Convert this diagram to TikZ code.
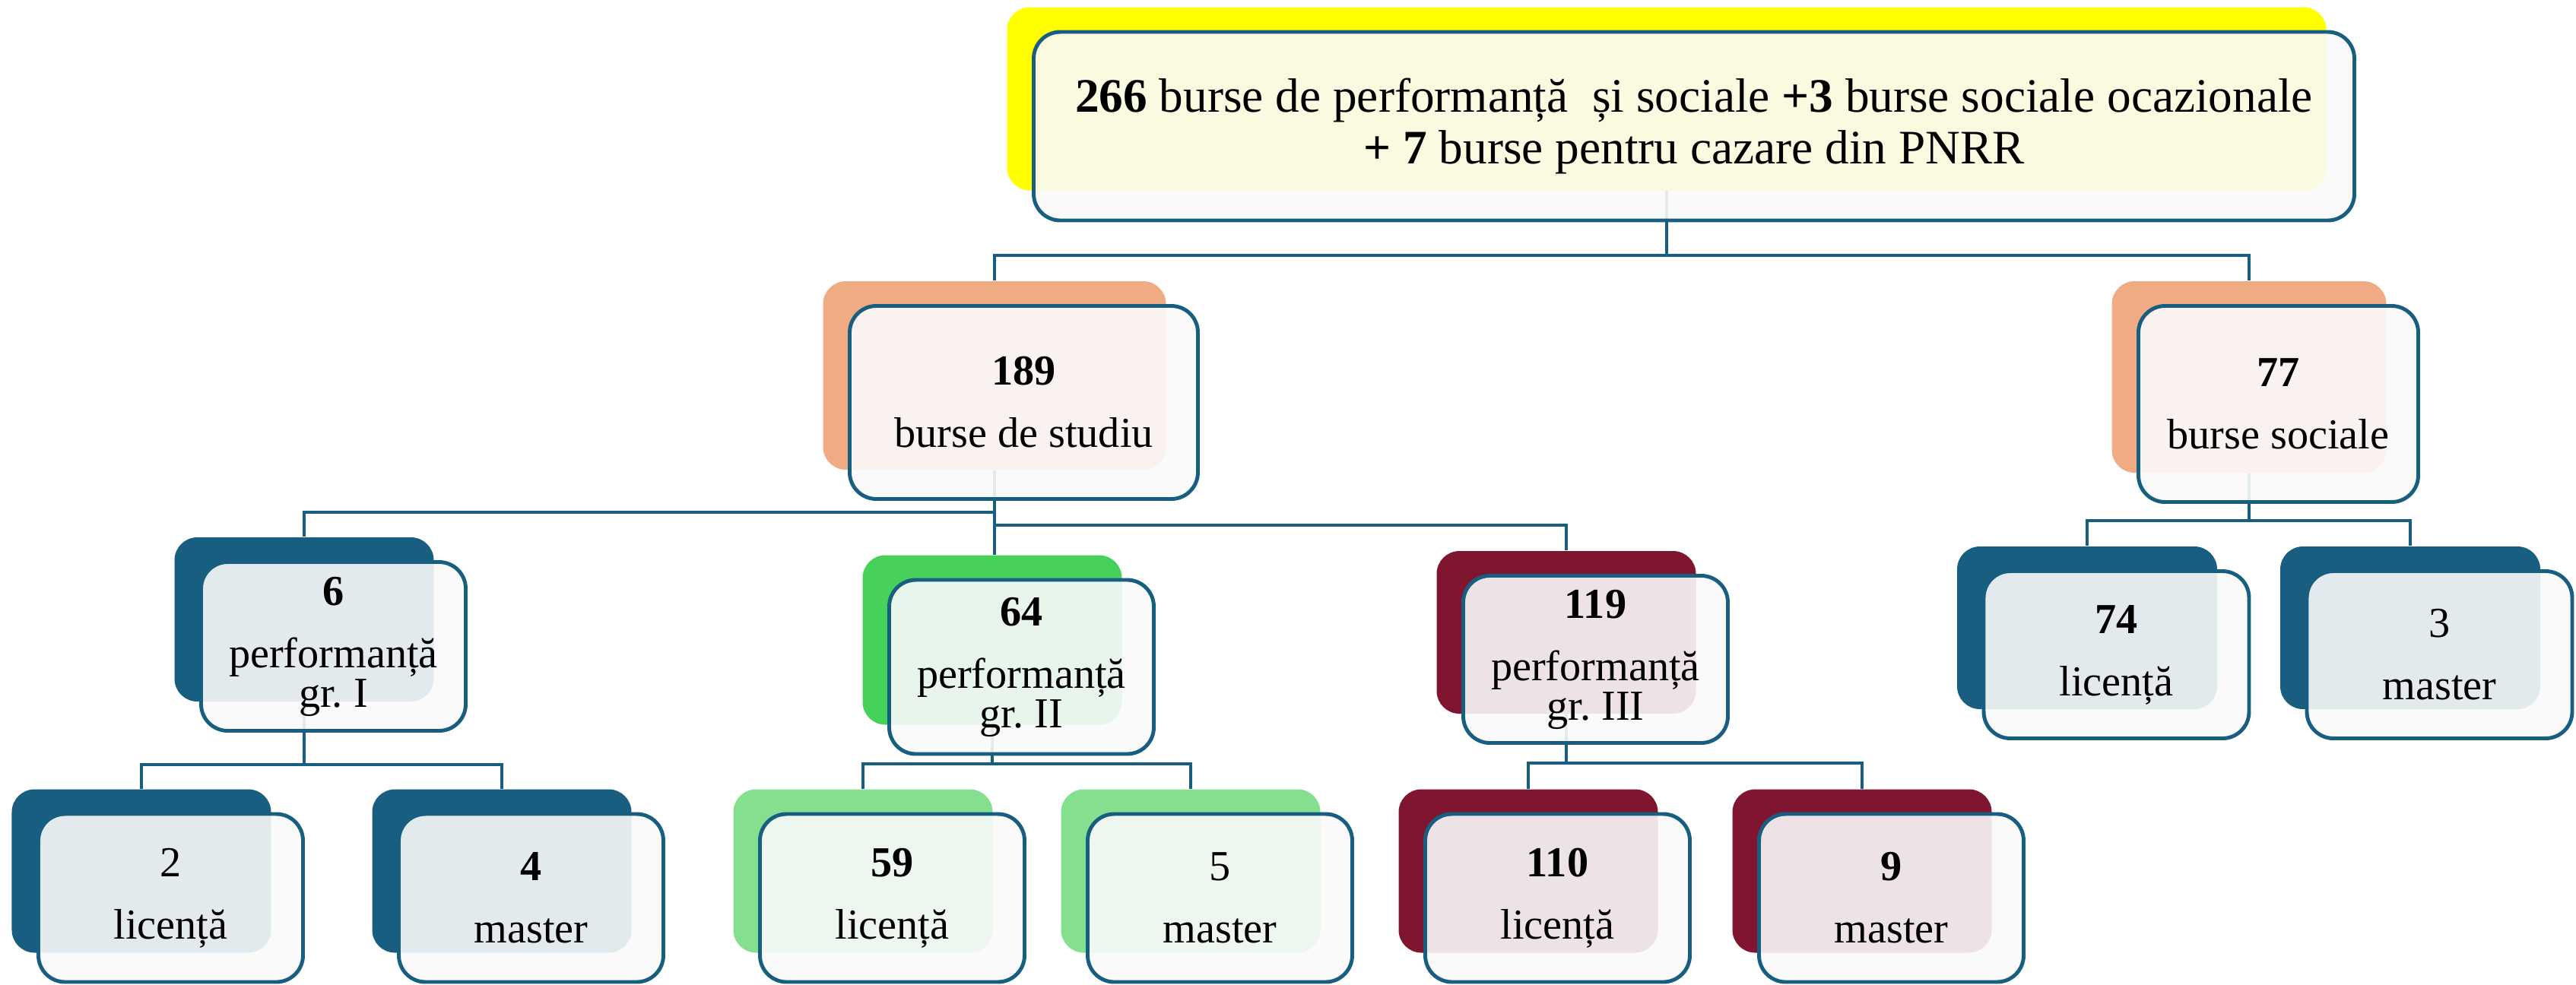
\documentclass[tikz,border=0pt]{standalone}
\usepackage{fontspec}
\setmainfont{Liberation Serif}
\usetikzlibrary{positioning}

\definecolor{tealblue}{HTML}{185E80}
\definecolor{peach}{HTML}{F0AA84}
\definecolor{leafgreen}{HTML}{46D15A}
\definecolor{mintgreen}{HTML}{84E08F}
\definecolor{wine}{HTML}{7F152E}
\definecolor{lemon}{HTML}{FFFF00}
\definecolor{paper}{HTML}{FAFAFA}

\begin{document}
\begin{tikzpicture}[
    box/.style 2 args={minimum width=#1cm, minimum height=#2cm},
    back/.style={rectangle, rounded corners=0.3cm, inner sep=0pt},
    front/.style={rectangle, draw=tealblue, line width=1.4pt, fill=paper, fill opacity=0.9, text opacity=1,
        rounded corners=0.35cm, align=center, inner sep=2pt, font=\fontsize{16pt}{14.8pt}\selectfont},
    link/.style={draw=tealblue, line width=1.2pt}
]
    \useasboundingbox (0,0) rectangle (33.88,-12.95);
    \fill[white] (0,0) rectangle (33.88,-12.95);

    % Back shapes
    \node[back, fill=lemon, box={17.35}{2.41}] (total) at (21.92,-1.30) {};
    \node[back, fill=peach, box={4.51}{2.48}] (studiu) at (13.08,-4.94) {};
    \node[back, fill=peach, box={3.61}{2.52}] (sociale) at (29.58,-4.96) {};
    \node[back, fill=tealblue, box={3.41}{2.16}] (gr1) at (4.00,-8.15) {};
    \node[back, fill=leafgreen, box={3.41}{2.23}] (gr2) at (13.05,-8.42) {};
    \node[back, fill=wine, box={3.41}{2.14}] (gr3) at (20.60,-8.32) {};
    \node[back, fill=tealblue, box={3.41}{2.15}] (gr1lic) at (1.86,-11.46) {};
    \node[back, fill=tealblue, box={3.41}{2.15}] (gr1mas) at (6.60,-11.46) {};
    \node[back, fill=mintgreen, box={3.41}{2.15}] (gr2lic) at (11.35,-11.46) {};
    \node[back, fill=mintgreen, box={3.41}{2.15}] (gr2mas) at (15.66,-11.46) {};
    \node[back, fill=wine, box={3.41}{2.15}] (gr3lic) at (20.10,-11.46) {};
    \node[back, fill=wine, box={3.41}{2.15}] (gr3mas) at (24.49,-11.46) {};
    \node[back, fill=tealblue, box={3.42}{2.14}] (soclic) at (27.45,-8.26) {};
    \node[back, fill=tealblue, box={3.42}{2.14}] (socmas) at (31.70,-8.26) {};

    % Connectors
    \draw[link] (total.south) -- ++(0,-0.85) -| (studiu.north);
    \draw[link] (total.south) -- ++(0,-0.85) -| (sociale.north);
    \draw[link] (studiu.south) -- ++(0,-0.55) -| (gr1.north);
    \draw[link] (studiu.south) -- ++(0,-0.72) -| (gr3.north);
    \draw[link] (studiu.south) -- (studiu.south |- gr2.north);
    \draw[link] (sociale.south) -- ++(0,-0.62) -| (soclic.north);
    \draw[link] (sociale.south) -- ++(0,-0.62) -| (socmas.north);
    \draw[link] (gr1.south) -- ++(0,-0.82) -| (gr1lic.north);
    \draw[link] (gr1.south) -- ++(0,-0.82) -| (gr1mas.north);
    \draw[link] (gr2.south) -- ++(0,-0.51) -| (gr2lic.north);
    \draw[link] (gr2.south) -- ++(0,-0.51) -| (gr2mas.north);
    \draw[link] (gr3.south) -- ++(0,-0.64) -| (gr3lic.north);
    \draw[link] (gr3.south) -- ++(0,-0.64) -| (gr3mas.north);

    % Front boxes
    \node[front, box={17.37}{2.48}, font=\fontsize{18pt}{19.6pt}\selectfont] (total-f) at ([shift={(0.36,-0.36)}]total.center)
        {\textbf{266} burse de performanță~ și sociale \textbf{+3} burse sociale ocazionale\\\textbf{+ 7} burse pentru cazare din PNRR};
    \node[front, box={4.58}{2.54}] (studiu-f) at ([shift={(0.385,-0.355)}]studiu.center) {\textbf{189}\\[0.3cm]burse de studiu};
    \node[front, box={3.68}{2.58}] (sociale-f) at ([shift={(0.385,-0.355)}]sociale.center) {\textbf{77}\\[0.3cm]burse sociale};
    \node[front, box={3.48}{2.22}] (gr1-f) at ([shift={(0.385,-0.355)}]gr1.center) {\textbf{6}\\[0.3cm]performanță\\gr.\ I};
    \node[front, box={3.48}{2.29}] (gr2-f) at ([shift={(0.385,-0.355)}]gr2.center) {\textbf{64}\\[0.3cm]performanță\\gr.\ II};
    \node[front, box={3.48}{2.20}] (gr3-f) at ([shift={(0.385,-0.355)}]gr3.center) {\textbf{119}\\[0.3cm]performanță\\gr.\ III};
    \node[front, box={3.48}{2.21}] (gr1lic-f) at ([shift={(0.385,-0.355)}]gr1lic.center) {2\\[0.3cm]licență};
    \node[front, box={3.48}{2.21}] (gr1mas-f) at ([shift={(0.385,-0.355)}]gr1mas.center) {\textbf{4}\\[0.3cm]master};
    \node[front, box={3.48}{2.21}] (gr2lic-f) at ([shift={(0.385,-0.355)}]gr2lic.center) {\textbf{59}\\[0.3cm]licență};
    \node[front, box={3.48}{2.21}] (gr2mas-f) at ([shift={(0.385,-0.355)}]gr2mas.center) {5\\[0.3cm]master};
    \node[front, box={3.48}{2.21}] (gr3lic-f) at ([shift={(0.385,-0.355)}]gr3lic.center) {\textbf{110}\\[0.3cm]licență};
    \node[front, box={3.48}{2.21}] (gr3mas-f) at ([shift={(0.385,-0.355)}]gr3mas.center) {\textbf{9}\\[0.3cm]master};
    \node[front, box={3.49}{2.20}] (soclic-f) at ([shift={(0.385,-0.355)}]soclic.center) {\textbf{74}\\[0.3cm]licență};
    \node[front, box={3.49}{2.20}] (socmas-f) at ([shift={(0.385,-0.355)}]socmas.center) {3\\[0.3cm]master};
\end{tikzpicture}
\end{document}
